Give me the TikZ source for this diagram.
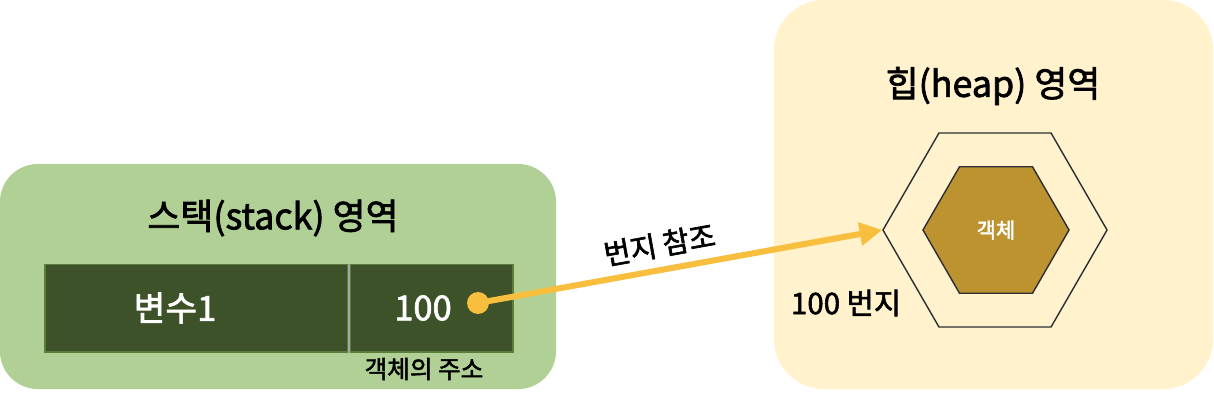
\documentclass[tikz,border=0pt]{standalone}
\usepackage{fontspec}
\setmainfont{Noto Sans CJK KR}[FakeBold=2]
\usetikzlibrary{positioning, arrows.meta, shapes.geometric}
\definecolor{stackbg}{RGB}{177,208,150}
\definecolor{cellfill}{RGB}{61,82,41}
\definecolor{cellline}{RGB}{92,125,58}
\definecolor{heapbg}{RGB}{255,242,204}
\definecolor{objfill}{RGB}{188,147,47}
\definecolor{hexline}{RGB}{43,47,51}
\definecolor{refcolor}{RGB}{248,190,62}

\begin{document}
\begin{tikzpicture}[x=0.025cm, y=-0.025cm,
    area/.style={rectangle, inner sep=0pt},
    cell/.style={rectangle, fill=cellfill, draw=cellline, line width=1.4pt, minimum height=2.175cm, inner sep=0pt},
    hexa/.style={regular polygon, regular polygon sides=6, inner sep=0pt, draw=hexline, line width=1pt}]

    \useasboundingbox (0,0) rectangle (1214,402);

    % === STACK ===
    \node[area, rounded corners=0.95cm, fill=stackbg, minimum width=13.9cm, minimum height=5.625cm] (stack) at (278,276.5) {};
    \node[font=\fontsize{25.5}{29}\selectfont] (stacktitle) at (273,218) {스택(stack) 영역};

    % variable cells
    \node[cell, minimum width=7.575cm] (varcell) at (196.5,308) {};
    \node[cell, minimum width=4.075cm, right=0pt of varcell] (valcell) {};
    \draw[line width=1pt, gray!70] (varcell.north east) -- (varcell.south east);
    \node[font=\fontsize{24.5}{28}\selectfont, white] (varname) at (175,308) {변수1};
    \node[font=\fontsize{24.5}{28}\selectfont, white] (varvalue) at (423,308) {100};
    \node[circle, fill=refcolor, minimum size=15.6pt, inner sep=0pt] (refdot) at (478,303) {};
    \node[font=\fontsize{17.5}{20}\selectfont] (addrnote) at (424,369) {객체의 주소};

    % === HEAP ===
    \node[area, rounded corners=1.25cm, fill=heapbg, minimum width=10.975cm, minimum height=9.725cm] (heap) at (993.5,194.5) {};
    \node[font=\fontsize{25.5}{29}\selectfont] (heaptitle) at (993,86) {힙(heap) 영역};

    % object
    \node[hexa, minimum size=5.6cm] (outerhex) at (995,230) {};
    \node[hexa, fill=objfill, minimum size=3.65cm, font=\fontsize{15}{18}\selectfont, text=white] (objhex) at (996,230) {객체};
    \node[font=\fontsize{21}{24}\selectfont] (addrlabel) at (846,303) {100 번지};

    % reference
    \draw[-{Triangle[length=16pt, width=16pt]}, line width=4.3pt, refcolor] (refdot.center) -- node[sloped, above=3pt, pos=0.46, text=black, font=\fontsize{20.5}{24}\selectfont] (reflabel) {번지 참조} (outerhex.west);

\end{tikzpicture}
\end{document}
